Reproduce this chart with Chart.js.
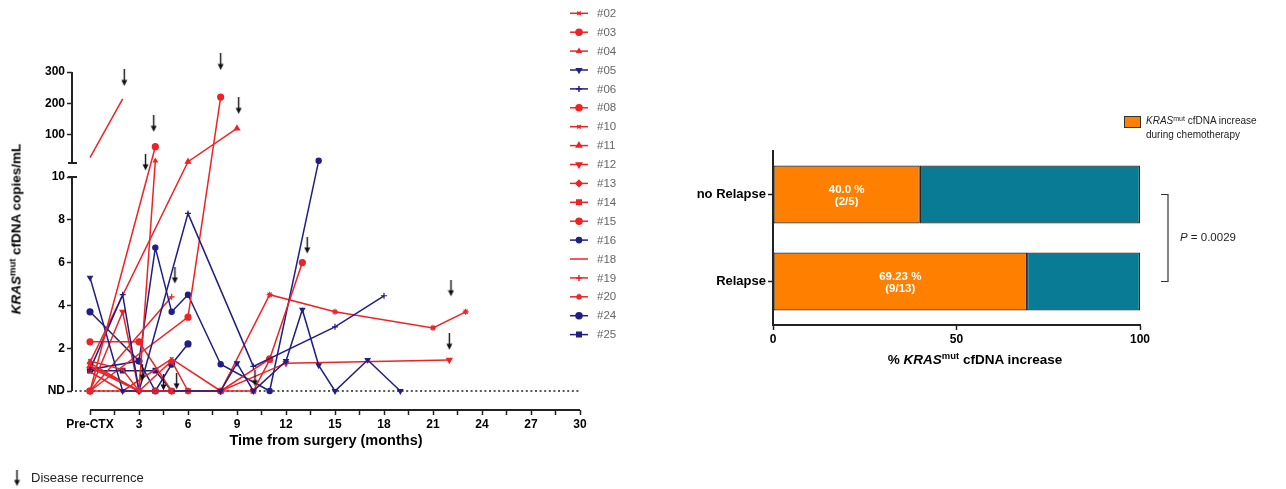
<!DOCTYPE html>
<html>
<head>
<meta charset="utf-8">
<script src="https://cdn.jsdelivr.net/npm/chart.js@4/dist/chart.umd.min.js"></script>
<style>
  html, body { margin: 0; padding: 0; background: #fff; }
  #wrap { position: relative; width: 1286px; height: 489px; overflow: hidden;
          font-family: "Liberation Sans", Arial, Helvetica, sans-serif; color: #000; }
  #cLeft { position: absolute; left: 0; top: 0; }
  #cRight { position: absolute; left: 640px; top: 0; }
  .t { position: absolute; white-space: nowrap; }
  .t sup { font-size: 70%; vertical-align: baseline; position: relative; top: -0.5em; }
  #yTitle { left: 16px; top: 229px; transform: translate(-50%, -50%) rotate(-90deg);
            font-weight: bold; font-size: 13.5px; }
  #barTitle { left: 975px; top: 359px; transform: translate(-50%, -50%);
              font-weight: bold; font-size: 13.5px; }
  #keyBox { position: absolute; left: 1124px; top: 116px; width: 15px; height: 10px;
            background: #ff8000; border: 1px solid #333; }
  #keyText { left: 1146px; top: 114px; font-size: 10px; line-height: 13px; color: #222; }
</style>
</head>
<body>
<div id="wrap">
  <canvas id="cLeft" width="640" height="489"></canvas>
  <canvas id="cRight" width="646" height="489"></canvas>
  <div class="t" id="yTitle"><i>KRAS</i><sup>mut</sup> cfDNA copies/mL</div>
  <div class="t" id="barTitle">% <i>KRAS</i><sup>mut</sup> cfDNA increase</div>
  <div id="keyBox"></div>
  <div class="t" id="keyText"><i>KRAS</i><sup>mut</sup> cfDNA increase<br>during chemotherapy</div>
</div>
<script>
Chart.defaults.font.family = "'Liberation Sans', Arial, Helvetica, sans-serif";
Chart.defaults.color = '#000';

// ---------- per-patient follow-up: [months from surgery, KRASmut copies/mL] ----------
const patients = ['#02','#03','#04','#05','#06','#08','#10','#11','#12','#13','#14','#15','#16','#18','#19','#20','#24','#25'];
const relapsed = [true,true,true,false,false,true,true,true,true,true,true,true,false,true,true,true,false,false];

const pt02 = [[0,1.4],[2,1.0],[3,0],[5,0]];
const pt03 = [[0,0],[4,62]];
const pt04 = [[0,1.2],[3,0],[4,17]];
const pt05 = [[0,5.3],[2,0],[8,0],[9,1.3],[10,0],[12,1.4],[13,3.8],[14,1.2],[15,0],[17,1.45],[19,0]];
const pt06 = [[0,1.0],[2,4.5],[3,0],[6,8.3],[10,1.15],[15,3.0],[18,4.45]];
const pt08 = [[0,0],[6,3.45],[8,220]];
const pt10 = [[0,0.9],[2,0],[5,1.5],[8,0]];
const pt11 = [[0,1.35],[6,14],[9,120]];
const pt12 = [[0,0],[2,3.7],[3,0],[5,0],[8,0],[12,1.3],[22,1.45]];
const pt13 = [[0,1.1],[3,0],[5,1.4],[6,0]];
const pt14 = [[0,0],[4,0],[6,0],[8,0],[10,0],[11,1.45]];
const pt15 = [[0,2.3],[3,2.3],[5,0],[8,0],[11,1.5],[13,6.0]];
const pt16 = [[0,1.0],[3,1.4],[4,6.7],[5,3.7],[6,4.5],[8,1.25],[11,0],[14,17]];
const pt18 = [[0,27],[2,214]];
const pt19 = [[0,0],[5,4.4]];
const pt20 = [[0,1.3],[3,0],[8,0],[11,4.5],[15,3.7],[21,2.95],[23,3.7]];
const pt24 = [[0,3.7],[3,1.4],[4,0],[5,1.25],[6,2.2]];
const pt25 = [[0,0.95],[2,0.95],[4,0.95],[5,0]];
const series = [pt02,pt03,pt04,pt05,pt06,pt08,pt10,pt11,pt12,pt13,pt14,pt15,pt16,pt18,pt19,pt20,pt24,pt25];

// disease recurrence markers (month, level the arrow sits at)
const recurrenceMonth = [2.1, 3.9, 3.4, 8.0, 9.1, 5.2, 13.3, 22.1, 22.0, 5.3, 4.5, 3.2, 10.1];
const recurrenceLevel = [281, 135, 12, 332, 192, 5.4, 6.8, 4.8, 2.3, 0.45, 0.4, 0.85, 0.6];

// axis ticks
const xTickMonths = [0,1.5,3,4.5,6,7.5,9,10.5,12,13.5,15,16.5,18,19.5,21,22.5,24,25.5,27,28.5,30];
const yTickValues = [0,2,4,6,8,10,100,200,300];

// ---------- bar panel ----------
const groups = ['no Relapse', 'Relapse'];
const increasedCount = [2, 9];
const groupTotal = [5, 13];
const pValue = '0.0029';

// ---------- styles ----------
const RED = '#ee2326';
const BLUE = '#1f1f86';
const markerOf = {
  '#02': {style:'crossRot', r:2.5}, '#03': {style:'circle', r:3},
  '#04': {style:'triangle', r:2.2}, '#05': {style:'triangle', r:2.7, rot:180},
  '#06': {style:'cross', r:3},      '#08': {style:'circle', r:3},
  '#10': {style:'crossRot', r:2.5}, '#11': {style:'triangle', r:3},
  '#12': {style:'triangle', r:3, rot:180}, '#13': {style:'rectRot', r:3},
  '#14': {style:'rect', r:3.2},     '#15': {style:'circle', r:3},
  '#16': {style:'circle', r:2.6},   '#18': {style:'line', r:0},
  '#19': {style:'cross', r:3},      '#20': {style:'star', r:3},
  '#24': {style:'circle', r:3},     '#25': {style:'rect', r:3.2}
};

// ---------- broken y scale: 0..10 linear, then a gap, then a compressed 10..300 part ----------
const LOW_PX = 21.4;                  // px per copy/mL in the lower segment
const GAP = 14 / LOW_PX;              // visual gap between segments
const K = (91 / 290) / LOW_PX;        // compression of the upper segment
function toU(v) { return v <= 10 ? v : 10 + GAP + (v - 10) * K; }
function fromU(u) { return u <= 10 ? u : (u <= 10 + GAP ? 10 : 10 + (u - 10 - GAP) / K); }

class BrokenScale extends Chart.LinearScale {
  static id = 'brokenY';
  static defaults = {};
  determineDataLimits() { this.min = this.options.min; this.max = this.options.max; }
  buildTicks() { return yTickValues.map(v => ({ value: v })); }
  getPixelForValue(v) { return v === null || v === undefined ? NaN : super.getPixelForValue(toU(v)); }
  getValueForPixel(p) { return fromU(super.getValueForPixel(p)); }
  pixelForU(u) { return super.getPixelForValue(u); }
}
Chart.register(BrokenScale);

// arrow glyph used for recurrence markers
function makeArrow() {
  const c = document.createElement('canvas');
  c.width = 7; c.height = 17;
  const g = c.getContext('2d');
  g.strokeStyle = '#111'; g.fillStyle = '#111'; g.lineWidth = 1.4;
  g.beginPath(); g.moveTo(3.5, 0); g.lineTo(3.5, 12); g.stroke();
  g.beginPath(); g.moveTo(0.5, 10.5); g.lineTo(6.5, 10.5); g.lineTo(3.5, 16.5); g.closePath(); g.fill();
  return c;
}
const arrowImg = makeArrow();

const datasets = patients.map((id, i) => {
  const m = markerOf[id];
  const c = relapsed[i] ? RED : BLUE;
  return {
    label: id,
    data: series[i].map(([x, y]) => ({ x, y })),
    borderColor: c, backgroundColor: c,
    borderWidth: 1.5, tension: 0,
    pointStyle: m.style, pointRadius: m.r, pointRotation: m.rot || 0,
    pointBorderWidth: 1.2, pointHoverRadius: m.r,
    clip: false
  };
});
datasets.push({
  type: 'scatter', label: 'recurrence', order: -1,
  data: recurrenceMonth.map((x, i) => ({ x, y: recurrenceLevel[i] })),
  pointStyle: arrowImg, pointRadius: 8, showLine: false, clip: false
});

function seg(ctx, x1, y1, x2, y2) { ctx.beginPath(); ctx.moveTo(x1, y1); ctx.lineTo(x2, y2); ctx.stroke(); }

const leftDecor = {
  id: 'leftDecor',
  beforeDatasetsDraw(chart) {
    const { ctx, chartArea, scales: { x, y } } = chart;
    const yND = y.getPixelForValue(0);
    ctx.save();
    ctx.strokeStyle = '#222';
    ctx.lineWidth = 1.5; ctx.setLineDash([2, 2.6]);
    seg(ctx, chartArea.left + 3, yND, x.getPixelForValue(30), yND);
    ctx.setLineDash([]);
    ctx.lineWidth = 2;
    const ax = chartArea.left;
    const yLowTop = y.getPixelForValue(10);
    const yUpBot = y.pixelForU(10 + GAP);
    const yUpTop = y.getPixelForValue(300);
    seg(ctx, ax, yND, ax, yLowTop);
    seg(ctx, ax, yUpBot, ax, yUpTop);
    seg(ctx, ax - 4, yLowTop, ax + 5, yLowTop);
    seg(ctx, ax - 4, yUpBot, ax + 5, yUpBot);
    seg(ctx, x.getPixelForValue(0), chartArea.bottom, x.getPixelForValue(30), chartArea.bottom);
    ctx.restore();
  },
  afterDraw(chart) {
    const ctx = chart.ctx;
    ctx.save();
    patients.forEach((id, i) => {
      const yy = 13.3 + i * 18.9;
      const c = relapsed[i] ? RED : BLUE;
      const m = markerOf[id];
      ctx.strokeStyle = c; ctx.fillStyle = c; ctx.lineWidth = 1.5;
      seg(ctx, 570, yy, 588, yy);
      if (m.r > 0) {
        Chart.helpers.drawPoint(ctx, { pointStyle: m.style, rotation: m.rot || 0, radius: m.r, borderWidth: 1.2 }, 579, yy);
      }
      ctx.fillStyle = '#666';
      ctx.font = "11.5px 'Liberation Sans', Arial, sans-serif";
      ctx.textBaseline = 'middle'; ctx.textAlign = 'left';
      ctx.fillText(id, 597, yy + 0.5);
    });
    ctx.drawImage(arrowImg, 17 - 3.5, 478 - 8.5);
    ctx.fillStyle = '#222';
    ctx.font = "13px 'Liberation Sans', Arial, sans-serif";
    ctx.textBaseline = 'middle';
    ctx.fillText('Disease recurrence', 31, 478);
    ctx.restore();
  }
};

new Chart(document.getElementById('cLeft'), {
  type: 'line',
  data: { datasets },
  options: {
    responsive: false, animation: false, devicePixelRatio: 1,
    layout: { padding: { left: 0, right: 60, top: 55, bottom: 39 } },
    plugins: { legend: { display: false }, tooltip: { enabled: false } },
    scales: {
      x: {
        type: 'linear', min: -540 / 490, max: 30,
        afterBuildTicks: s => { s.ticks = xTickMonths.map(v => ({ value: v })); },
        afterFit: s => { s.height = 40; },
        ticks: {
          autoSkip: false, maxRotation: 0, padding: 2, color: '#000',
          font: { weight: 'bold', size: 12 },
          callback: v => v === 0 ? 'Pre-CTX' : (v % 3 === 0 ? String(v) : '')
        },
        grid: { drawOnChartArea: false, drawTicks: true, tickLength: 5, tickColor: '#222', tickWidth: 1.5 },
        border: { display: false },
        title: { display: true, text: 'Time from surgery (months)', color: '#000',
                 font: { weight: 'bold', size: 14.5 }, padding: { top: 2, bottom: 0 } }
      },
      y: {
        type: 'brokenY', min: -19 / LOW_PX, max: toU(300) + 17 / LOW_PX,
        afterFit: s => { s.width = 72; },
        ticks: {
          autoSkip: false, padding: 2, color: '#000',
          font: { weight: 'bold', size: 12 },
          callback: v => v === 0 ? 'ND' : String(v)
        },
        grid: { drawOnChartArea: false, drawTicks: true, tickLength: 5, tickColor: '#222', tickWidth: 1.5 },
        border: { display: false }
      }
    }
  },
  plugins: [leftDecor]
});

// ---------- bar chart ----------
const pctIncrease = increasedCount.map((n, i) => n / groupTotal[i] * 100);
function pctText(p) {
  const r = Math.round(p * 100) / 100;
  return (Number.isInteger(r) ? r.toFixed(1) : String(r)) + ' %';
}

const barDecor = {
  id: 'barDecor',
  afterDatasetsDraw(chart) {
    const { ctx } = chart;
    const meta = chart.getDatasetMeta(0);
    ctx.save();
    ctx.fillStyle = '#fff';
    ctx.font = "bold 11.5px 'Liberation Sans', Arial, sans-serif";
    ctx.textAlign = 'center'; ctx.textBaseline = 'middle';
    meta.data.forEach((bar, i) => {
      const cx = (bar.base + bar.x) / 2;
      ctx.fillText(pctText(pctIncrease[i]), cx, bar.y - 5);
      ctx.fillText('(' + increasedCount[i] + '/' + groupTotal[i] + ')', cx, bar.y + 7.5);
    });
    ctx.restore();
  },
  afterDraw(chart) {
    const { ctx, chartArea, scales: { y } } = chart;
    const bx = chartArea.right + 28;
    const y0 = y.getPixelForValue(0), y1 = y.getPixelForValue(1);
    ctx.save();
    ctx.strokeStyle = '#333'; ctx.lineWidth = 1.2;
    ctx.beginPath();
    ctx.moveTo(bx - 7, y0); ctx.lineTo(bx, y0); ctx.lineTo(bx, y1); ctx.lineTo(bx - 7, y1);
    ctx.stroke();
    ctx.fillStyle = '#222'; ctx.textBaseline = 'middle'; ctx.textAlign = 'left';
    const ty = (y0 + y1) / 2;
    ctx.font = "italic 11.5px 'Liberation Sans', Arial, sans-serif";
    ctx.fillText('P', bx + 12, ty);
    const w = ctx.measureText('P').width;
    ctx.font = "11.5px 'Liberation Sans', Arial, sans-serif";
    ctx.fillText(' = ' + pValue, bx + 12 + w, ty);
    ctx.restore();
  }
};

new Chart(document.getElementById('cRight'), {
  type: 'bar',
  data: {
    labels: groups,
    datasets: [
      { label: 'increase', data: pctIncrease, backgroundColor: '#ff8000',
        borderColor: '#2a2a2a', borderWidth: 1.2, borderSkipped: false,
        barPercentage: 58 / 87, categoryPercentage: 1 },
      { label: 'no increase', data: pctIncrease.map(p => 100 - p), backgroundColor: '#0a7b94',
        borderColor: '#2a2a2a', borderWidth: 1.2, borderSkipped: false,
        barPercentage: 58 / 87, categoryPercentage: 1 }
    ]
  },
  options: {
    indexAxis: 'y', responsive: false, animation: false, devicePixelRatio: 1,
    layout: { padding: { left: 0, right: 146, top: 151, bottom: 124 } },
    plugins: { legend: { display: false }, tooltip: { enabled: false } },
    scales: {
      x: {
        stacked: true, min: 0, max: 100,
        afterBuildTicks: s => { s.ticks = [0, 50, 100].map(v => ({ value: v })); },
        afterFit: s => { s.height = 40; },
        ticks: { padding: 2, color: '#000', font: { weight: 'bold', size: 12 } },
        grid: { drawOnChartArea: false, drawTicks: true, tickLength: 5, tickColor: '#222', tickWidth: 1.5 },
        border: { display: true, color: '#222', width: 2 }
      },
      y: {
        stacked: true,
        afterFit: s => { s.width = 133; },
        ticks: { padding: 2, color: '#000', font: { weight: 'bold', size: 13 } },
        grid: { offset: false, drawOnChartArea: false, drawTicks: true, tickLength: 5, tickColor: '#222', tickWidth: 1.5 },
        border: { display: true, color: '#222', width: 2 }
      }
    }
  },
  plugins: [barDecor]
});
</script>
</body>
</html>
